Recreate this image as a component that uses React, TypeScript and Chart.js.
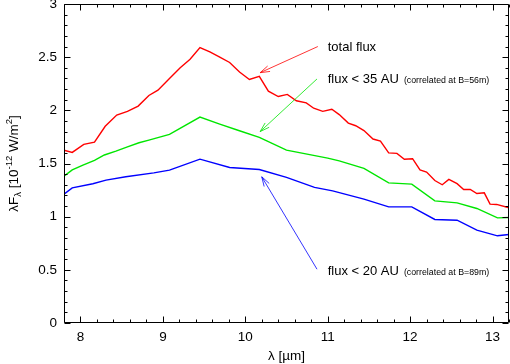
import React, { useEffect, useRef } from "react";
import { Chart, registerables } from "chart.js";

Chart.register(...registerables);

const FONT = '"Liberation Sans", Arial, Helvetica, sans-serif';

// total flux (red)
const totalX = [7.8, 7.9, 8.04, 8.17, 8.3, 8.44, 8.57, 8.7, 8.83, 8.94, 9.08, 9.21, 9.33, 9.45, 9.57, 9.69, 9.81, 9.93, 10.05, 10.17, 10.28, 10.4, 10.51, 10.62, 10.74, 10.83, 10.94, 11.05, 11.14, 11.25, 11.34, 11.44, 11.55, 11.64, 11.74, 11.84, 11.93, 12.03, 12.12, 12.2, 12.3, 12.39, 12.47, 12.57, 12.65, 12.73, 12.81, 12.9, 12.97, 13.05, 13.2];
const totalY = [1.625, 1.604, 1.68, 1.7, 1.85, 1.956, 1.99, 2.04, 2.14, 2.19, 2.3, 2.4, 2.48, 2.59, 2.55, 2.5, 2.45, 2.36, 2.29, 2.32, 2.18, 2.13, 2.15, 2.09, 2.07, 2.02, 1.99, 2.01, 1.96, 1.88, 1.855, 1.81, 1.73, 1.71, 1.6, 1.595, 1.54, 1.545, 1.44, 1.42, 1.34, 1.3, 1.35, 1.31, 1.256, 1.256, 1.218, 1.224, 1.118, 1.115, 1.083];

// flux < 35 AU (green)
const f35X = [7.8, 7.9, 8.03, 8.17, 8.29, 8.43, 8.57, 8.71, 8.83, 9.08, 9.45, 9.69, 9.92, 10.17, 10.5, 11.0, 11.14, 11.44, 11.74, 12.02, 12.3, 12.57, 12.81, 13.06, 13.2];
const f35Y = [1.38, 1.44, 1.485, 1.53, 1.58, 1.617, 1.657, 1.695, 1.72, 1.774, 1.937, 1.87, 1.81, 1.745, 1.626, 1.55, 1.525, 1.454, 1.318, 1.306, 1.149, 1.13, 1.077, 0.989, 0.992];

// flux < 20 AU (blue)
const f20X = [7.8, 7.9, 8.15, 8.31, 8.55, 8.89, 9.08, 9.45, 9.81, 10.17, 10.5, 10.84, 11.06, 11.44, 11.74, 12.02, 12.3, 12.57, 12.81, 13.06, 13.2];
const f20Y = [1.212, 1.271, 1.31, 1.344, 1.375, 1.412, 1.438, 1.541, 1.463, 1.444, 1.369, 1.275, 1.243, 1.165, 1.092, 1.092, 0.974, 0.967, 0.873, 0.82, 0.833];

const xTickValues = [8, 9, 10, 11, 12, 13];
const yTickValues = [0, 0.5, 1, 1.5, 2, 2.5, 3];

const seriesColors = ["#ff0000", "#00e600", "#0000ff"];

// annotation labels (text, small note) and their arrows, in data units
const annLabels = ["total flux", "flux < 35 AU", "flux < 20 AU"];
const annNotes = ["", "(correlated at B=56m)", "(correlated at B=89m)"];
const annTextX = [11.0, 11.0, 11.0];
const annTextY = [2.554, 2.254, 0.456];
const arrowTailX = [10.88, 10.87, 10.87];
const arrowTailY = [2.6, 2.295, 0.506];
const arrowHeadX = [10.18, 10.18, 10.2];
const arrowHeadY = [2.354, 1.8, 1.375];

const toPoints = (xs: number[], ys: number[]) => xs.map((x, i) => ({ x, y: ys[i] }));

const framePlugin = {
  id: "frameTicks",
  afterDraw(chart: any) {
    const { ctx, chartArea: a, scales } = chart;
    const xs = scales.x;
    const ys = scales.y;
    ctx.save();
    ctx.strokeStyle = "#000";
    ctx.lineWidth = 1;
    const L = Math.round(a.left) + 0.5;
    const R = Math.round(a.right) - 0.5;
    const T = Math.round(a.top) + 0.5;
    const B = Math.round(a.bottom) - 0.5;
    ctx.beginPath();
    ctx.rect(L, T, R - L, B - T);
    ctx.stroke();
    ctx.beginPath();
    for (let i = 39; i <= 66; i++) {
      const v = i / 5;
      const len = i % 5 === 0 ? 6 : 3;
      const px = Math.round(xs.getPixelForValue(v)) + 0.5;
      ctx.moveTo(px, B);
      ctx.lineTo(px, B - len);
      ctx.moveTo(px, T);
      ctx.lineTo(px, T + len);
    }
    for (let i = 0; i <= 30; i++) {
      const v = i / 10;
      const len = i % 5 === 0 ? 6 : 3;
      const py = Math.round(ys.getPixelForValue(v)) + 0.5;
      ctx.moveTo(L, py);
      ctx.lineTo(L + len, py);
      ctx.moveTo(R, py);
      ctx.lineTo(R - len, py);
    }
    ctx.stroke();

    // annotations
    for (let k = 0; k < annLabels.length; k++) {
      const col = seriesColors[k];
      const tx = xs.getPixelForValue(arrowTailX[k]);
      const ty = ys.getPixelForValue(arrowTailY[k]);
      const hx = xs.getPixelForValue(arrowHeadX[k]);
      const hy = ys.getPixelForValue(arrowHeadY[k]);
      ctx.strokeStyle = col;
      ctx.lineWidth = 0.8;
      ctx.beginPath();
      ctx.moveTo(tx, ty);
      ctx.lineTo(hx, hy);
      const ang = Math.atan2(ty - hy, tx - hx);
      const hl = 10;
      const ha = 0.3;
      ctx.moveTo(hx + hl * Math.cos(ang + ha), hy + hl * Math.sin(ang + ha));
      ctx.lineTo(hx, hy);
      ctx.lineTo(hx + hl * Math.cos(ang - ha), hy + hl * Math.sin(ang - ha));
      ctx.stroke();

      const lx = xs.getPixelForValue(annTextX[k]);
      const ly = ys.getPixelForValue(annTextY[k]);
      ctx.fillStyle = "#000";
      ctx.textBaseline = "alphabetic";
      ctx.textAlign = "left";
      ctx.font = `13px ${FONT}`;
      ctx.fillText(annLabels[k], lx, ly);
      if (annNotes[k]) {
        const w = ctx.measureText(annLabels[k]).width;
        ctx.font = `8.8px ${FONT}`;
        ctx.fillText(annNotes[k], lx + w + 5, ly);
      }
    }

    // y axis title with sub/superscripts
    const segs: [string, number, number][] = [
      ["λF", 13.5, 0],
      ["λ", 9.5, 3],
      [" [10", 13.5, 0],
      ["-12", 9.5, -6],
      [" W/m", 13.5, 0],
      ["2", 9.5, -6],
      ["]", 13.5, 0],
    ];
    let total = 0;
    for (const s of segs) {
      ctx.font = `${s[1]}px ${FONT}`;
      total += ctx.measureText(s[0]).width;
    }
    ctx.translate(18, (a.top + a.bottom) / 2);
    ctx.rotate(-Math.PI / 2);
    ctx.fillStyle = "#000";
    let cx = -total / 2;
    for (const s of segs) {
      ctx.font = `${s[1]}px ${FONT}`;
      ctx.fillText(s[0], cx, s[2]);
      cx += ctx.measureText(s[0]).width;
    }
    ctx.restore();
  },
};

export default function App() {
  const ref = useRef<HTMLCanvasElement | null>(null);
  useEffect(() => {
    if (!ref.current) return;
    const tickFont = { family: FONT, size: 13.5 };
    const chart = new Chart(ref.current, {
      type: "line",
      data: {
        datasets: [
          { label: "total flux", data: toPoints(totalX, totalY), borderColor: seriesColors[0], borderWidth: 1.4, pointRadius: 0, tension: 0, fill: false },
          { label: "flux < 35 AU", data: toPoints(f35X, f35Y), borderColor: seriesColors[1], borderWidth: 1.4, pointRadius: 0, tension: 0, fill: false },
          { label: "flux < 20 AU", data: toPoints(f20X, f20Y), borderColor: seriesColors[2], borderWidth: 1.4, pointRadius: 0, tension: 0, fill: false },
        ],
      },
      options: {
        animation: false,
        responsive: false,
        maintainAspectRatio: false,
        layout: { padding: { top: 4, right: 1, left: 0, bottom: 0 } },
        plugins: { legend: { display: false }, tooltip: { enabled: false } },
        scales: {
          x: {
            type: "linear",
            min: 7.8,
            max: 13.2,
            afterBuildTicks: (s: any) => {
              s.ticks = xTickValues.map((v) => ({ value: v }));
            },
            afterFit: (s: any) => {
              s.height = 41;
              s.paddingLeft = 0;
              s.paddingRight = 0;
            },
            grid: { display: false, drawTicks: false },
            border: { display: false },
            ticks: { padding: 6, font: tickFont, color: "#000", maxRotation: 0, autoSkip: false, callback: (v: any) => String(v) },
            title: { display: true, text: "λ [µm]", font: { family: FONT, size: 13.5 }, color: "#000", padding: 0 },
          },
          y: {
            type: "linear",
            min: 0,
            max: 3,
            afterBuildTicks: (s: any) => {
              s.ticks = yTickValues.map((v) => ({ value: v }));
            },
            afterFit: (s: any) => {
              s.width = 64;
              s.paddingTop = 0;
              s.paddingBottom = 0;
            },
            grid: { display: false, drawTicks: false },
            border: { display: false },
            ticks: { padding: 7, font: tickFont, color: "#000", autoSkip: false, callback: (v: any) => String(v) },
          },
        },
      },
      plugins: [framePlugin],
    });
    return () => chart.destroy();
  }, []);
  return (
    <div style={{ position: "fixed", left: 0, top: 0, width: 510, height: 364, background: "#fff" }}>
      <canvas ref={ref} width={510} height={364} style={{ width: 510, height: 364 }} />
    </div>
  );
}
